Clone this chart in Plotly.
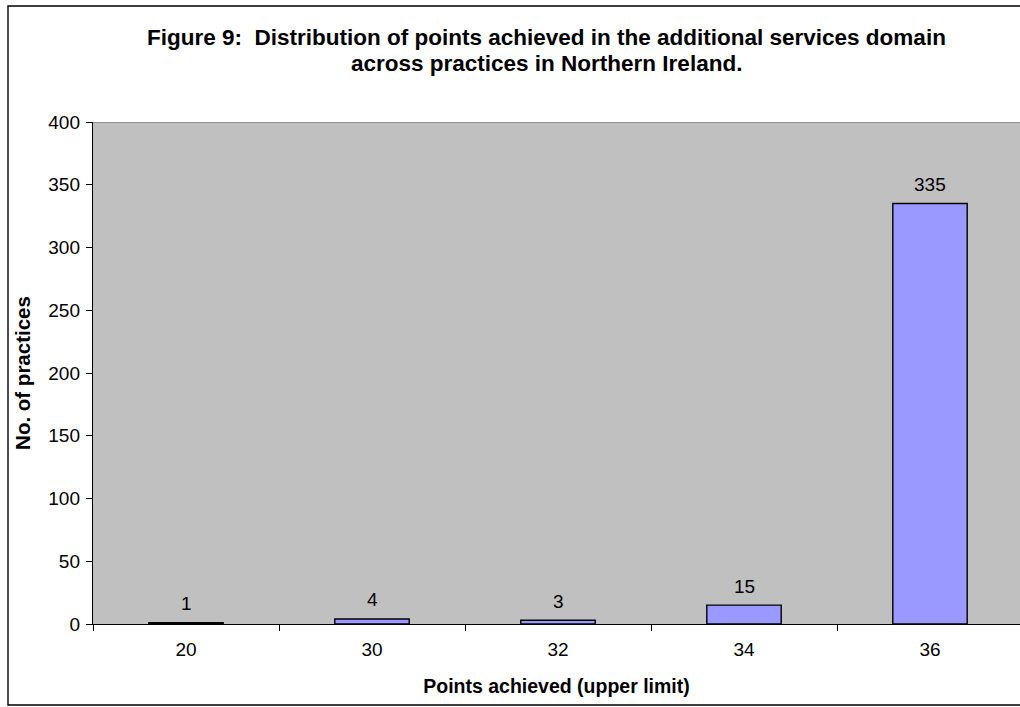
import plotly.graph_objects as go

# Points achieved (upper limit of each band) and number of practices in it
points_bands = ["20", "30", "32", "34", "36"]
practices = [1, 4, 3, 15, 335]

y_ticks = [0, 50, 100, 150, 200, 250, 300, 350, 400]

title_lines = [
    "Figure 9:  Distribution of points achieved in the additional services domain",
    "across practices in Northern Ireland.",
]

FONT = "Liberation Sans, Arial, sans-serif"

W, H = 1020, 707
ML, MR, MT, MB = 93, 0, 122, 83
plot_w = W - ML - MR
plot_h = H - MT - MB

fig = go.Figure()
fig.add_trace(go.Bar(
    x=points_bands,
    y=practices,
    width=0.4,
    marker=dict(color="#9999FF", line=dict(color="#000000", width=1.4)),
    hoverinfo="x+y",
))

# value labels above each bar (positioned by category index)
for i, val in enumerate(practices):
    fig.add_annotation(
        x=i, y=val, xref="x", yref="y", text=str(val), showarrow=False,
        yanchor="middle", yshift=19,
        font=dict(family=FONT, size=19, color="#000000"),
    )

def px_to_paper_x(px):
    return (px - ML) / plot_w

def px_to_paper_y(py):
    return (H - MB - py) / plot_h

# two-line chart heading
for line, ypx in zip(title_lines, [38, 63]):
    fig.add_annotation(
        x=px_to_paper_x(546), y=px_to_paper_y(ypx), xref="paper", yref="paper",
        text=f"<b>{line}</b>", showarrow=False,
        xanchor="center", yanchor="middle",
        font=dict(family=FONT, size=22.5, color="#000000"),
    )

# outer chart frame
fig.add_shape(
    type="rect", xref="paper", yref="paper",
    x0=px_to_paper_x(8), x1=px_to_paper_x(1040),
    y0=px_to_paper_y(705), y1=px_to_paper_y(6),
    line=dict(color="#000000", width=1.4), fillcolor="rgba(0,0,0,0)",
    layer="below",
)
# top gridline at the axis maximum
fig.add_shape(
    type="line", xref="paper", yref="y",
    x0=0, x1=1, y0=400, y1=400,
    line=dict(color="#808080", width=1.5),
)

fig.update_layout(
    width=W, height=H,
    margin=dict(l=ML, r=MR, t=MT, b=MB, pad=0),
    paper_bgcolor="#FFFFFF",
    plot_bgcolor="#C0C0C0",
    showlegend=False,
    font=dict(family=FONT, size=19, color="#000000"),
    xaxis=dict(
        type="category",
        range=[-0.5, -0.5 + plot_w / 186.0],
        showline=True, linecolor="#000000", linewidth=1.4,
        ticks="outside", ticklen=6, tickcolor="#000000", tickwidth=1,
        tickson="boundaries",
        showgrid=False, zeroline=False,
        tickfont=dict(family=FONT, size=19),
        ticklabelstandoff=8,
        title=dict(text="<b>Points achieved (upper limit)</b>",
                   font=dict(family=FONT, size=19.5), standoff=20),
    ),
    yaxis=dict(
        range=[0, 400],
        tickvals=y_ticks,
        showline=True, linecolor="#000000", linewidth=1.4,
        ticks="outside", ticklen=6, tickcolor="#000000", tickwidth=1,
        showgrid=False, zeroline=False,
        tickfont=dict(family=FONT, size=19),
        ticklabelstandoff=2,
        title=dict(text="<b>No. of practices</b>",
                   font=dict(family=FONT, size=20.5), standoff=12),
    ),
)

fig.write_html("out.html")
